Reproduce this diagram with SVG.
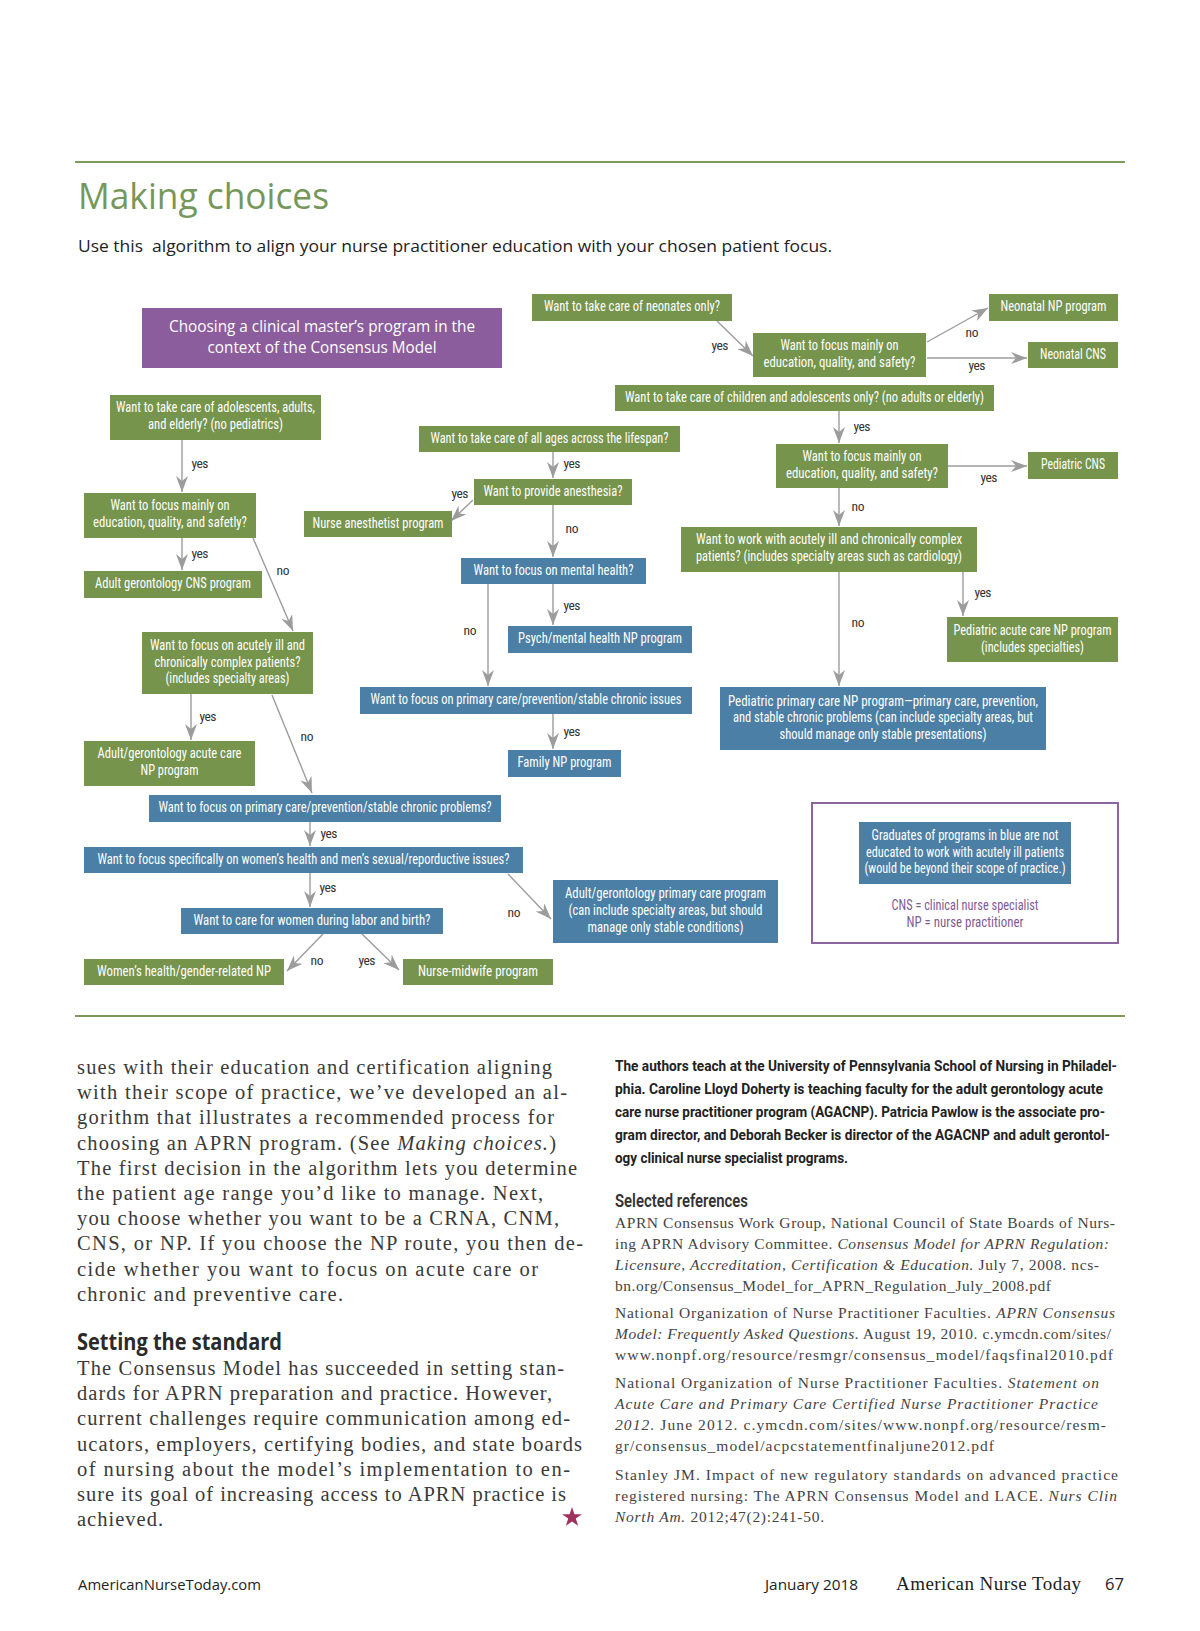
<svg xmlns="http://www.w3.org/2000/svg" width="1200" height="1631" viewBox="0 0 1200 1631">
<defs>
<style>
.g{fill:#76944c}
.b{fill:#4b7fa6}
.t{font-family:"Liberation Sans Narrow","Roboto Condensed","Liberation Sans",sans-serif;font-size:14px;fill:#ffffff;text-anchor:middle}
.lbl{font-family:"Liberation Sans Narrow","Roboto Condensed","Liberation Sans",sans-serif;font-size:13.5px;fill:#333333;text-anchor:middle}
.c{stroke:#9c9c9c;stroke-width:1.4;fill:none;marker-end:url(#ah)}
.body{font-family:"Liberation Serif","Times New Roman",serif;font-size:20.5px;fill:#3a3a3a}
.bold{font-family:"Liberation Sans Narrow","Roboto","Liberation Sans",sans-serif;font-size:15.5px;font-weight:bold;fill:#222222}
.ref{font-family:"Liberation Serif","Times New Roman",serif;font-size:15.5px;fill:#444444}
.i{font-style:italic}
</style>
<marker id="ah" markerUnits="userSpaceOnUse" markerWidth="16" markerHeight="12" viewBox="0 0 16 12" refX="16" refY="6" orient="auto">
<path d="M0,0 L16,6 L0,12 L5,6 Z" fill="#9c9c9c"/>
</marker>
</defs>
<rect width="1200" height="1631" fill="#ffffff"/>

<!-- header -->
<line x1="75" y1="162" x2="1125" y2="162" stroke="#7d9a5c" stroke-width="2"/>
<text x="78" y="209" font-family="'Open Sans','Lato',sans-serif" font-size="36" fill="#76975a" textLength="251" lengthAdjust="spacingAndGlyphs">Making choices</text>
<text x="78" y="252" font-family="'Open Sans','Lato',sans-serif" font-size="17" fill="#222222" textLength="754" lengthAdjust="spacingAndGlyphs" xml:space="preserve">Use this  algorithm to align your nurse practitioner education with your chosen patient focus.</text>

<!-- connectors -->
<g id="connectors">
<path class="c" d="M717,321 L753,356"/>
<path class="c" d="M927,342 L988,308"/>
<path class="c" d="M927,358 L1027,358"/>
<path class="c" d="M839,411 L839,443"/>
<path class="c" d="M948,466 L1027,466"/>
<path class="c" d="M839,488 L839,526"/>
<path class="c" d="M963,572 L963,616"/>
<path class="c" d="M839,572 L839,686"/>
<path class="c" d="M182,440 L182,492"/>
<path class="c" d="M182,538 L182,570"/>
<path class="c" d="M253,538 L293,631"/>
<path class="c" d="M191,694 L191,740"/>
<path class="c" d="M272,695 L312,793"/>
<path class="c" d="M553,452 L553,478"/>
<path class="c" d="M473,500 L451,521"/>
<path class="c" d="M553,505 L553,557"/>
<path class="c" d="M553,584 L553,625"/>
<path class="c" d="M488,584 L488,686"/>
<path class="c" d="M553,714 L553,749"/>
<path class="c" d="M310,822 L310,846"/>
<path class="c" d="M310,873 L310,907"/>
<path class="c" d="M508,874 L551,919"/>
<path class="c" d="M323,934 L287,971"/>
<path class="c" d="M362,934 L399,970"/>
<text class="lbl" x="720" y="350" textLength="17">yes</text>
<text class="lbl" x="972" y="337" textLength="13">no</text>
<text class="lbl" x="977" y="370" textLength="17">yes</text>
<text class="lbl" x="862" y="431" textLength="17">yes</text>
<text class="lbl" x="989" y="482" textLength="17">yes</text>
<text class="lbl" x="858" y="511" textLength="13">no</text>
<text class="lbl" x="983" y="597" textLength="17">yes</text>
<text class="lbl" x="858" y="627" textLength="13">no</text>
<text class="lbl" x="200" y="468" textLength="17">yes</text>
<text class="lbl" x="200" y="558" textLength="17">yes</text>
<text class="lbl" x="283" y="575" textLength="13">no</text>
<text class="lbl" x="208" y="721" textLength="17">yes</text>
<text class="lbl" x="307" y="741" textLength="13">no</text>
<text class="lbl" x="572" y="468" textLength="17">yes</text>
<text class="lbl" x="460" y="498" textLength="17">yes</text>
<text class="lbl" x="572" y="533" textLength="13">no</text>
<text class="lbl" x="572" y="610" textLength="17">yes</text>
<text class="lbl" x="470" y="635" textLength="13">no</text>
<text class="lbl" x="572" y="736" textLength="17">yes</text>
<text class="lbl" x="329" y="838" textLength="17">yes</text>
<text class="lbl" x="328" y="892" textLength="17">yes</text>
<text class="lbl" x="514" y="917" textLength="13">no</text>
<text class="lbl" x="317" y="965" textLength="13">no</text>
<text class="lbl" x="367" y="965" textLength="17">yes</text>
</g>

<!-- nodes -->
<g id="start">
<rect x="142" y="308" width="360" height="60" fill="#8b5d9c"/>
<text x="322" y="332" font-family="'Open Sans','Lato',sans-serif" font-size="16.5" fill="#ffffff" text-anchor="middle" textLength="306" lengthAdjust="spacingAndGlyphs">Choosing a clinical master’s program in the</text>
<text x="322" y="353" font-family="'Open Sans','Lato',sans-serif" font-size="16.5" fill="#ffffff" text-anchor="middle" textLength="229" lengthAdjust="spacingAndGlyphs">context of the Consensus Model</text>
</g>
<g id="n-neonates"><rect class="g" x="532" y="294" width="200" height="27"/><text class="t" x="632" y="311" textLength="176" lengthAdjust="spacingAndGlyphs">Want to take care of neonates only?</text></g>
<g id="n-neonatal-np"><rect class="g" x="989" y="294" width="129" height="27"/><text class="t" x="1053.5" y="311" textLength="106" lengthAdjust="spacingAndGlyphs">Neonatal NP program</text></g>
<g id="n-neonate-focus"><rect class="g" x="753" y="333" width="173" height="44"/><text class="t" x="839.5" y="350" textLength="118" lengthAdjust="spacingAndGlyphs">Want to focus mainly on</text><text class="t" x="839.5" y="367" textLength="152" lengthAdjust="spacingAndGlyphs">education, quality, and safety?</text></g>
<g id="n-neonatal-cns"><rect class="g" x="1028" y="342" width="90" height="26"/><text class="t" x="1073" y="359" textLength="66" lengthAdjust="spacingAndGlyphs">Neonatal CNS</text></g>
<g id="n-children"><rect class="g" x="615" y="385" width="379" height="26"/><text class="t" x="804.5" y="402" textLength="359" lengthAdjust="spacingAndGlyphs">Want to take care of children and adolescents only? (no adults or elderly)</text></g>
<g id="n-adolescents"><rect class="g" x="110" y="395" width="211" height="45"/><text class="t" x="215.5" y="412" textLength="199" lengthAdjust="spacingAndGlyphs">Want to take care of adolescents, adults,</text><text class="t" x="215.5" y="429" textLength="135" lengthAdjust="spacingAndGlyphs">and elderly? (no pediatrics)</text></g>
<g id="n-all-ages"><rect class="g" x="419" y="426" width="261" height="26"/><text class="t" x="549.5" y="443" textLength="238" lengthAdjust="spacingAndGlyphs">Want to take care of all ages across the lifespan?</text></g>
<g id="n-ped-focus"><rect class="g" x="776" y="444" width="172" height="44"/><text class="t" x="862" y="461" textLength="119" lengthAdjust="spacingAndGlyphs">Want to focus mainly on</text><text class="t" x="862" y="478" textLength="152" lengthAdjust="spacingAndGlyphs">education, quality, and safety?</text></g>
<g id="n-ped-cns"><rect class="g" x="1028" y="452" width="90" height="27"/><text class="t" x="1073" y="469" textLength="64" lengthAdjust="spacingAndGlyphs">Pediatric CNS</text></g>
<g id="n-anesthesia"><rect class="g" x="474" y="479" width="158" height="26"/><text class="t" x="553" y="496" textLength="139" lengthAdjust="spacingAndGlyphs">Want to provide anesthesia?</text></g>
<g id="n-adult-focus"><rect class="g" x="84" y="493" width="172" height="45"/><text class="t" x="170" y="510" textLength="119" lengthAdjust="spacingAndGlyphs">Want to focus mainly on</text><text class="t" x="170" y="527" textLength="154" lengthAdjust="spacingAndGlyphs">education, quality, and safetly?</text></g>
<g id="n-anesthetist"><rect class="g" x="304" y="511" width="148" height="26"/><text class="t" x="378" y="528" textLength="131" lengthAdjust="spacingAndGlyphs">Nurse anesthetist program</text></g>
<g id="n-ped-acutely"><rect class="g" x="681" y="527" width="296" height="45"/><text class="t" x="829" y="544" textLength="266" lengthAdjust="spacingAndGlyphs">Want to work with acutely ill and chronically complex</text><text class="t" x="829" y="561" textLength="266" lengthAdjust="spacingAndGlyphs">patients? (includes specialty areas such as cardiology)</text></g>
<g id="n-mental"><rect class="b" x="461" y="558" width="185" height="26"/><text class="t" x="553.5" y="575" textLength="160" lengthAdjust="spacingAndGlyphs">Want to focus on mental health?</text></g>
<g id="n-adult-cns"><rect class="g" x="84" y="571" width="178" height="27"/><text class="t" x="173" y="588" textLength="156" lengthAdjust="spacingAndGlyphs">Adult gerontology CNS program</text></g>
<g id="n-psych"><rect class="b" x="508" y="626" width="184" height="27"/><text class="t" x="600" y="643" textLength="164" lengthAdjust="spacingAndGlyphs">Psych/mental health NP program</text></g>
<g id="n-ped-acute"><rect class="g" x="947" y="617" width="171" height="45"/><text class="t" x="1032.5" y="635" textLength="158" lengthAdjust="spacingAndGlyphs">Pediatric acute care NP program</text><text class="t" x="1032.5" y="652" textLength="103" lengthAdjust="spacingAndGlyphs">(includes specialties)</text></g>
<g id="n-adult-acutely"><rect class="g" x="142" y="632" width="171" height="62"/><text class="t" x="227.5" y="650" textLength="155" lengthAdjust="spacingAndGlyphs">Want to focus on acutely ill and</text><text class="t" x="227.5" y="667" textLength="146" lengthAdjust="spacingAndGlyphs">chronically complex patients?</text><text class="t" x="227.5" y="683" textLength="124" lengthAdjust="spacingAndGlyphs">(includes specialty areas)</text></g>
<g id="n-primary-issues"><rect class="b" x="360" y="687" width="332" height="27"/><text class="t" x="526" y="704" textLength="311" lengthAdjust="spacingAndGlyphs">Want to focus on primary care/prevention/stable chronic issues</text></g>
<g id="n-ped-primary"><rect class="b" x="720" y="687" width="326" height="63"/><text class="t" x="883" y="706" textLength="310" lengthAdjust="spacingAndGlyphs">Pediatric primary care NP program—primary care, prevention,</text><text class="t" x="883" y="722" textLength="300" lengthAdjust="spacingAndGlyphs">and stable chronic problems (can include specialty areas, but</text><text class="t" x="883" y="739" textLength="207" lengthAdjust="spacingAndGlyphs">should manage only stable presentations)</text></g>
<g id="n-adult-acute"><rect class="g" x="84" y="741" width="171" height="45"/><text class="t" x="169.5" y="758" textLength="144" lengthAdjust="spacingAndGlyphs">Adult/gerontology acute care</text><text class="t" x="169.5" y="775" textLength="58" lengthAdjust="spacingAndGlyphs">NP program</text></g>
<g id="n-family"><rect class="b" x="508" y="750" width="113" height="27"/><text class="t" x="564.5" y="767" textLength="94" lengthAdjust="spacingAndGlyphs">Family NP program</text></g>
<g id="n-primary-problems"><rect class="b" x="149" y="795" width="352" height="27"/><text class="t" x="325" y="812" textLength="333" lengthAdjust="spacingAndGlyphs">Want to focus on primary care/prevention/stable chronic problems?</text></g>
<g id="legend">
<rect x="812" y="803" width="306" height="140" fill="none" stroke="#8e64a0" stroke-width="2"/>
<rect class="b" x="859" y="822" width="212" height="62"/>
<text class="t" x="965" y="840" textLength="187" lengthAdjust="spacingAndGlyphs">Graduates of programs in blue are not</text>
<text class="t" x="965" y="857" textLength="198" lengthAdjust="spacingAndGlyphs">educated to work with acutely ill patients</text>
<text class="t" x="965" y="873" textLength="201" lengthAdjust="spacingAndGlyphs">(would be beyond their scope of practice.)</text>
<text class="t" x="965" y="910" style="fill:#7f5b93" textLength="147" lengthAdjust="spacingAndGlyphs">CNS = clinical nurse specialist</text>
<text class="t" x="965" y="927" style="fill:#7f5b93" textLength="117" lengthAdjust="spacingAndGlyphs">NP = nurse practitioner</text>
</g>
<g id="n-womens-focus"><rect class="b" x="84" y="847" width="439" height="26"/><text class="t" x="303.5" y="864" textLength="412" lengthAdjust="spacingAndGlyphs">Want to focus specifically on women’s health and men’s sexual/reporductive issues?</text></g>
<g id="n-adult-primary"><rect class="b" x="553" y="880" width="225" height="63"/><text class="t" x="665.5" y="898" textLength="201" lengthAdjust="spacingAndGlyphs">Adult/gerontology primary care program</text><text class="t" x="665.5" y="915" textLength="194" lengthAdjust="spacingAndGlyphs">(can include specialty areas, but should</text><text class="t" x="665.5" y="932" textLength="156" lengthAdjust="spacingAndGlyphs">manage only stable conditions)</text></g>
<g id="n-labor"><rect class="b" x="181" y="908" width="262" height="26"/><text class="t" x="312" y="925" textLength="237" lengthAdjust="spacingAndGlyphs">Want to care for women during labor and birth?</text></g>
<g id="n-womens-np"><rect class="g" x="84" y="959" width="200" height="26"/><text class="t" x="184" y="976" textLength="174" lengthAdjust="spacingAndGlyphs">Women’s health/gender-related NP</text></g>
<g id="n-midwife"><rect class="g" x="403" y="959" width="150" height="26"/><text class="t" x="478" y="976" textLength="120" lengthAdjust="spacingAndGlyphs">Nurse-midwife program</text></g>

<line x1="75" y1="1016" x2="1125" y2="1016" stroke="#7d9a5c" stroke-width="2"/>

<!-- left column -->
<g id="left-column">
<text class="body" x="77" y="1074" textLength="475" lengthAdjust="spacing">sues with their education and certification aligning</text>
<text class="body" x="77" y="1099" textLength="490" lengthAdjust="spacing">with their scope of practice, we’ve developed an al-</text>
<text class="body" x="77" y="1124" textLength="477" lengthAdjust="spacing">gorithm that illustrates a recommended process for</text>
<text class="body" x="77" y="1150" textLength="479" lengthAdjust="spacing">choosing an APRN program. (See <tspan class="i">Making choices.</tspan>)</text>
<text class="body" x="77" y="1175" textLength="500" lengthAdjust="spacing">The first decision in the algorithm lets you determine</text>
<text class="body" x="77" y="1200" textLength="466" lengthAdjust="spacing">the patient age range you’d like to manage. Next,</text>
<text class="body" x="77" y="1225" textLength="482" lengthAdjust="spacing">you choose whether you want to be a CRNA, CNM,</text>
<text class="body" x="77" y="1250" textLength="506" lengthAdjust="spacing">CNS, or NP. If you choose the NP route, you then de-</text>
<text class="body" x="77" y="1276" textLength="461" lengthAdjust="spacing">cide whether you want to focus on acute care or</text>
<text class="body" x="77" y="1301" textLength="266" lengthAdjust="spacing">chronic and preventive care.</text>
<text x="77" y="1350" font-family="'Open Sans','Liberation Sans',sans-serif" font-size="23" font-weight="bold" fill="#2a2a2a" textLength="205" lengthAdjust="spacingAndGlyphs">Setting the standard</text>
<text class="body" x="77" y="1375" textLength="487" lengthAdjust="spacing">The Consensus Model has succeeded in setting stan-</text>
<text class="body" x="77" y="1400" textLength="475" lengthAdjust="spacing">dards for APRN preparation and practice. However,</text>
<text class="body" x="77" y="1425" textLength="493" lengthAdjust="spacing">current challenges require communication among ed-</text>
<text class="body" x="77" y="1451" textLength="505" lengthAdjust="spacing">ucators, employers, certifying bodies, and state boards</text>
<text class="body" x="77" y="1476" textLength="493" lengthAdjust="spacing">of nursing about the model’s implementation to en-</text>
<text class="body" x="77" y="1501" textLength="489" lengthAdjust="spacing">sure its goal of increasing access to APRN practice is</text>
<text class="body" x="77" y="1526" textLength="86" lengthAdjust="spacing">achieved.</text>
<polygon points="572,1507 574.4,1514.2 581.9,1514.2 575.8,1518.6 578.1,1525.8 572,1521.4 565.9,1525.8 568.2,1518.6 562.1,1514.2 569.6,1514.2" fill="#a0305e"/>
</g>

<!-- right column -->
<g id="right-column">
<text class="bold" x="615" y="1071" textLength="502" lengthAdjust="spacingAndGlyphs">The authors teach at the University of Pennsylvania School of Nursing in Philadel-</text>
<text class="bold" x="615" y="1094" textLength="488" lengthAdjust="spacingAndGlyphs">phia. Caroline Lloyd Doherty is teaching faculty for the adult gerontology acute</text>
<text class="bold" x="615" y="1117" textLength="490" lengthAdjust="spacingAndGlyphs">care nurse practitioner program (AGACNP). Patricia Pawlow is the associate pro-</text>
<text class="bold" x="615" y="1140" textLength="495" lengthAdjust="spacingAndGlyphs">gram director, and Deborah Becker is director of the AGACNP and adult gerontol-</text>
<text class="bold" x="615" y="1163" textLength="233" lengthAdjust="spacingAndGlyphs">ogy clinical nurse specialist programs.</text>
<text x="615" y="1207" font-family="'Liberation Sans Narrow','Roboto','Liberation Sans',sans-serif" font-size="18" font-weight="600" fill="#333333" textLength="133" lengthAdjust="spacingAndGlyphs">Selected references</text>
<text class="ref" x="615" y="1228" textLength="500" lengthAdjust="spacing">APRN Consensus Work Group, National Council of State Boards of Nurs-</text>
<text class="ref" x="615" y="1249" textLength="494" lengthAdjust="spacing">ing APRN Advisory Committee. <tspan class="i">Consensus Model for APRN Regulation:</tspan></text>
<text class="ref" x="615" y="1270" textLength="484" lengthAdjust="spacing"><tspan class="i">Licensure, Accreditation, Certification &amp; Education.</tspan> July 7, 2008. ncs-</text>
<text class="ref" x="615" y="1291" textLength="436" lengthAdjust="spacing">bn.org/Consensus_Model_for_APRN_Regulation_July_2008.pdf</text>
<text class="ref" x="615" y="1318" textLength="500" lengthAdjust="spacing">National Organization of Nurse Practitioner Faculties. <tspan class="i">APRN Consensus</tspan></text>
<text class="ref" x="615" y="1339" textLength="496" lengthAdjust="spacing"><tspan class="i">Model: Frequently Asked Questions.</tspan> August 19, 2010. c.ymcdn.com/sites/</text>
<text class="ref" x="615" y="1360" textLength="498" lengthAdjust="spacing">www.nonpf.org/resource/resmgr/consensus_model/faqsfinal2010.pdf</text>
<text class="ref" x="615" y="1388" textLength="484" lengthAdjust="spacing">National Organization of Nurse Practitioner Faculties. <tspan class="i">Statement on</tspan></text>
<text class="ref" x="615" y="1409" textLength="483" lengthAdjust="spacing"><tspan class="i">Acute Care and Primary Care Certified Nurse Practitioner Practice</tspan></text>
<text class="ref" x="615" y="1430" textLength="491" lengthAdjust="spacing"><tspan class="i">2012.</tspan> June 2012. c.ymcdn.com/sites/www.nonpf.org/resource/resm-</text>
<text class="ref" x="615" y="1451" textLength="379" lengthAdjust="spacing">gr/consensus_model/acpcstatementfinaljune2012.pdf</text>
<text class="ref" x="615" y="1480" textLength="503" lengthAdjust="spacing">Stanley JM. Impact of new regulatory standards on advanced practice</text>
<text class="ref" x="615" y="1501" textLength="502" lengthAdjust="spacing">registered nursing: The APRN Consensus Model and LACE. <tspan class="i">Nurs Clin</tspan></text>
<text class="ref" x="615" y="1522" textLength="209" lengthAdjust="spacing"><tspan class="i">North Am.</tspan> 2012;47(2):241-50.</text>
</g>

<!-- footer -->
<g id="footer">
<text x="78" y="1590" font-family="'Open Sans','Lato',sans-serif" font-size="15" fill="#222222" textLength="183" lengthAdjust="spacingAndGlyphs">AmericanNurseToday.com</text>
<text x="765" y="1590" font-family="'Open Sans','Lato',sans-serif" font-size="15" fill="#222222" textLength="93" lengthAdjust="spacingAndGlyphs">January 2018</text>
<text x="896" y="1590" font-family="'Liberation Serif',serif" font-size="19" fill="#222222" textLength="185" lengthAdjust="spacing">American Nurse Today</text>
<text x="1105" y="1590" font-family="'Open Sans','Lato',sans-serif" font-size="17" fill="#222222" textLength="19" lengthAdjust="spacingAndGlyphs">67</text>
</g>
</svg>
